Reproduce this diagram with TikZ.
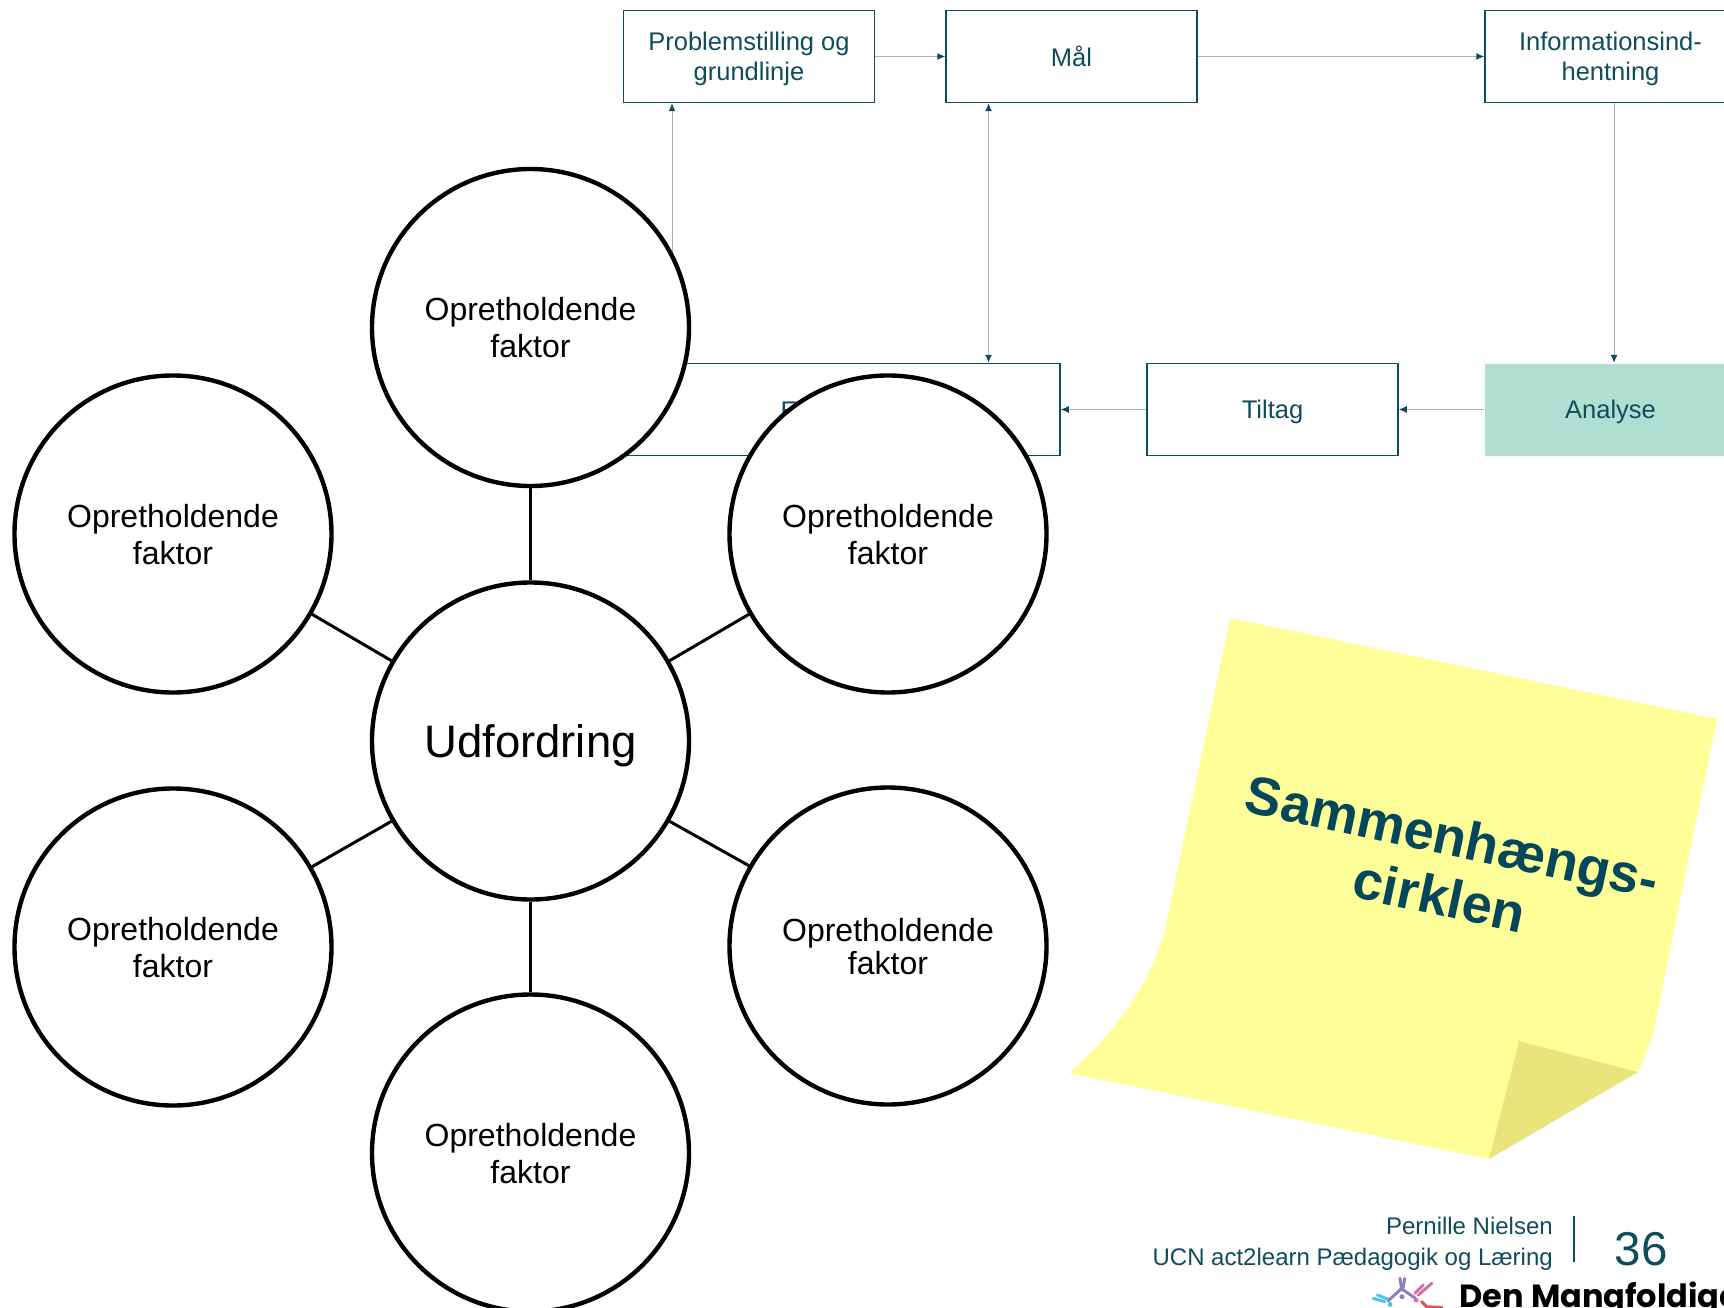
\documentclass[tikz,border=0pt]{standalone}
\usepackage{fontspec}
\setmainfont{Liberation Sans}
\newfontfamily\logofont{Poppins}
\usepackage{tikz}
\usetikzlibrary{%
  arrows.meta,
}
\definecolor{ucnteal}{HTML}{0F4C5C}
\definecolor{notetextcol}{HTML}{04465A}
\definecolor{flowline}{HTML}{9DB9BF}
\definecolor{analysefill}{HTML}{B0DFD2}
\definecolor{noteyellow}{HTML}{FFFF99}
\definecolor{notefold}{HTML}{E9E57A}
\definecolor{logoblue}{HTML}{4FC3E8}
\definecolor{logopurple}{HTML}{8F7FC0}
\definecolor{logopink}{HTML}{D670A8}
\definecolor{logored}{HTML}{E0505A}
\tikzset{
  stagebox/.style = {
    rectangle, line width = 1.5pt,
    draw = ucnteal, fill = white, text = ucnteal,
    minimum width = 251pt, minimum height = 92pt, inner sep = 0pt,
    align = center, text depth = 0pt,
    font = \fontsize{25.5}{30.5}\selectfont,
  },
  flow/.style = {
    line width = 1pt, flowline,
    -{Latex[ucnteal, length = 8pt, width = 7pt]},
  },
  factor/.style = {
    circle, line width = 4.4pt,
    draw = black, fill = white,
    minimum size = 317pt, inner sep = 0pt,
    align = center, text depth = 0pt,
    font = \fontsize{32}{37}\selectfont,
  },
  spoke/.style = {line width = 3pt, black},
  footer/.style = {
    text = ucnteal, inner sep = 0pt, anchor = base east,
    font = \fontsize{24}{24}\selectfont,
  },
  limb/.style = {line width = 3pt, line cap = round},
}

\begin{document}
\begin{tikzpicture}[x = 1pt, y = -1pt]
        \useasboundingbox (0,0) rectangle (1724,1308);
        \clip (0,0) rectangle (1724,1308);

        \node[stagebox] (prob) at (749,56.5) {Problemstilling og\\grundlinje};
        \node[stagebox] (maal) at (1071.5,56.5) {Mål};
        \node[stagebox] (info) at (1610.5,56.5) {Informationsind-\\hentning};
        \node[
          stagebox, fill = analysefill, draw = none,
        ] (analyse) at (1610.5,409.5) {Analyse};
        \node[stagebox] (tiltag) at (1272.5,409.5) {Tiltag};
        \node[
          stagebox, minimum width = 436pt,
        ] (eval) at (842,409.5) {};
        \node[
          text = ucnteal, inner sep = 0pt,
          font = \fontsize{25.5}{30.5}\selectfont,
        ] (evaltext) at (789,411) {E};

        \draw[flow] (prob.east) -- (maal.west);
        \draw[flow] (maal.east) -- (info.west);
        \draw[flow] ([xshift = 3.5pt]info.south) -- ([xshift = 3.5pt]analyse.north);
        \draw[flow] (analyse.west) -- (tiltag.east);
        \draw[flow] (tiltag.west) -- (eval.east);
        \draw[flow, {Latex[ucnteal, length = 8pt, width = 7pt]}-{Latex[ucnteal, length = 8pt, width = 7pt]}]
          ([xshift = -83pt]maal.south) -- ([xshift = 146.5pt]eval.north);
        \draw[flow] ([xshift = -170pt]eval.north) -- ([xshift = -77pt]prob.south);

        \node[
          factor, font = \fontsize{45.5}{50}\selectfont,
        ] (hub) at (530.5,741) {Udfordring};
        \node[factor] (ftop) at (530.5,327.5) {Opretholdende\\faktor};
        \node[factor] (fupleft) at (173,534) {Opretholdende\\faktor};
        \node[factor] (fupright) at (888,534) {Opretholdende\\faktor};
        \node[factor] (flowleft) at (173,947) {Opretholdende\\faktor};
        \node[
          factor, font = \fontsize{32}{33}\selectfont,
        ] (flowright) at (888,946) {Opretholdende\\faktor};
        \node[factor] (fbottom) at (530.5,1153) {Opretholdende\\faktor};

        \draw[spoke] (hub.north) -- (ftop.south);
        \draw[spoke] (hub.150) -- (fupleft.-30);
        \draw[spoke] (hub.30) -- (fupright.210);
        \draw[spoke] (hub.210) -- (flowleft.30);
        \draw[spoke] (hub.-30) -- (flowright.150);
        \draw[spoke] (hub.south) -- (fbottom.north);

        \fill[noteyellow]
          (1230,618) -- (1717,719) -- (1654,1030)
          .. controls (1650,1045) and (1645,1058) .. (1638,1072)
          -- (1519,1041) -- (1489,1159) -- (1069,1073)
          .. controls (1115,1033) and (1150,985) .. (1165,930)
          -- cycle;
        \fill[notefold] (1519,1041) -- (1638,1072) -- (1489,1159) -- cycle;
        \node[
          rotate = -12, align = center, text = notetextcol, text depth = 0pt,
          font = \fontsize{54}{61}\selectfont\bfseries,
        ] (notetext) at (1446,866) {Sammenhængs-\\cirklen};

        \node[footer] (author) at (1553,1234) {Pernille Nielsen};
        \node[footer] (unit) at (1553,1265) {UCN act2learn Pædagogik og Læring};
        \coordinate (ruletop) at (1574,1216);
        \coordinate (rulefoot) at (1574,1262);
        \draw[line width = 1.5pt, ucnteal] (ruletop) -- (rulefoot);
        \node[
          text = ucnteal, inner sep = 0pt, anchor = base,
          font = \fontsize{47.5}{47.5}\selectfont,
        ] (pageno) at (1641,1265) {36};

        \draw[limb, logoblue] (1373.3,1298.3) -- (1385,1301.7);
        \draw[limb, logoblue] (1377.3,1295) -- (1388.3,1299.3);
        \fill[logoblue] (1390,1304.3) circle (2.5);
        \draw[limb, logopurple] (1388.3,1300.7) -- (1401.7,1288.3);
        \draw[limb, logopurple] (1400,1278.3) -- (1401.7,1290);
        \draw[limb, logopurple] (1404.7,1278.3) -- (1402.7,1290);
        \draw[limb, logopurple] (1403.3,1290) -- (1415,1298);
        \fill[logopurple] (1402,1296.7) circle (2.5);
        \draw[limb, logopink] (1423.3,1285) -- (1415,1293.3);
        \draw[limb, logopink] (1431.7,1283.3) -- (1418.3,1295);
        \fill[logopink] (1416,1300) circle (2.5);
        \draw[limb, logored] (1421.7,1301.7) -- (1426.7,1306.7) -- (1441.7,1307.5);
        \node[
          inner sep = 0pt, anchor = base west,
          font = \fontsize{32}{32}\logofont\bfseries,
        ] (logotext) at (1459.5,1307) {Den Mangfoldige};
\end{tikzpicture}
\end{document}
